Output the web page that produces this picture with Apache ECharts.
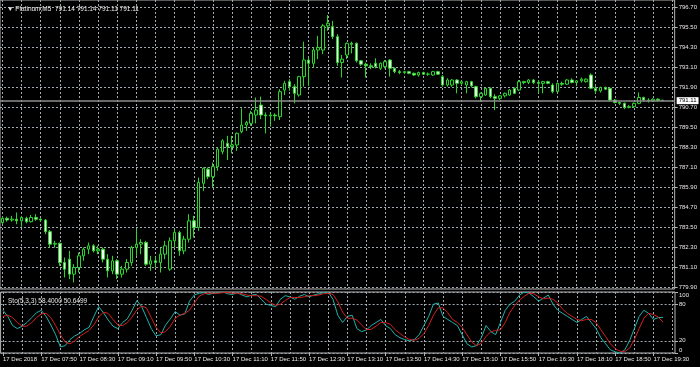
<!DOCTYPE html>
<html><head><meta charset="utf-8">
<script src="https://cdn.jsdelivr.net/npm/echarts@6/dist/echarts.min.js"></script>
<style>html,body{margin:0;padding:0;background:#000;}#c{width:700px;height:367px;}</style>
</head><body><div id="c"></div>
<script>
// bar times (M5), session break 17:00-17:55, two empty slots at the right (chart shift)
const barTimes = [
'07:10','07:15','07:20','07:25','07:30','07:35','07:40','07:45','07:50','07:55',
'08:00','08:05','08:10','08:15','08:20','08:25','08:30','08:35','08:40','08:45','08:50','08:55',
'09:00','09:05','09:10','09:15','09:20','09:25','09:30','09:35','09:40','09:45','09:50','09:55',
'10:00','10:05','10:10','10:15','10:20','10:25','10:30','10:35','10:40','10:45','10:50','10:55',
'11:00','11:05','11:10','11:15','11:20','11:25','11:30','11:35','11:40','11:45','11:50','11:55',
'12:00','12:05','12:10','12:15','12:20','12:25','12:30','12:35','12:40','12:45','12:50','12:55',
'13:00','13:05','13:10','13:15','13:20','13:25','13:30','13:35','13:40','13:45','13:50','13:55',
'14:00','14:05','14:10','14:15','14:20','14:25','14:30','14:35','14:40','14:45','14:50','14:55',
'15:00','15:05','15:10','15:15','15:20','15:25','15:30','15:35','15:40','15:45','15:50','15:55',
'16:00','16:05','16:10','16:15','16:20','16:25','16:30','16:35','16:40','16:45','16:50','16:55',
'18:00','18:05','18:10','18:15','18:20','18:25','18:30','18:35','18:40','18:45','18:50','18:55',
'19:00','19:05','19:10','19:15','19:20','19:25','19:30','19:35','19:40','19:45','19:50'];
const timeTickLabels = {
'07:10':'17 Dec 2018','07:50':'17 Dec 07:50','08:30':'17 Dec 08:30','09:10':'17 Dec 09:10','09:50':'17 Dec 09:50',
'10:30':'17 Dec 10:30','11:10':'17 Dec 11:10','11:50':'17 Dec 11:50','12:30':'17 Dec 12:30','13:10':'17 Dec 13:10',
'13:50':'17 Dec 13:50','14:30':'17 Dec 14:30','15:10':'17 Dec 15:10','15:50':'17 Dec 15:50','16:30':'17 Dec 16:30',
'18:10':'17 Dec 18:10','18:50':'17 Dec 18:50','19:30':'17 Dec 19:30'};
const priceTicks = [779.90,781.10,782.30,783.50,784.70,785.90,787.10,788.30,789.50,790.70,791.90,793.10,794.30,795.50,796.70];
const stoTicks = [0,20,80,100];

const opens = [783.80,784.05,783.95,784.00,783.90,784.05,783.85,784.10,784.00,783.95,
783.25,782.50,782.55,781.40,781.60,780.70,781.10,781.80,782.20,782.40,
782.10,782.20,781.60,780.90,781.50,780.70,781.00,781.40,782.30,782.50,
782.60,781.30,781.50,781.40,781.90,781.00,782.70,783.20,782.10,782.80,
783.90,783.50,786.15,787.00,786.55,787.15,788.05,788.55,788.35,788.45,
789.25,789.65,789.75,790.25,790.85,790.25,790.20,790.25,790.15,791.75,
792.25,791.95,791.45,792.55,793.55,793.35,794.15,794.15,795.60,795.55,
794.95,793.40,793.85,794.55,794.55,793.50,793.30,793.20,793.35,793.05,
793.15,793.55,793.05,792.85,792.80,792.85,792.75,792.65,792.80,792.70,
792.65,792.85,792.55,792.05,792.05,792.35,792.15,792.05,792.25,791.95,
791.35,791.45,791.85,791.35,791.25,791.40,791.45,791.85,791.75,792.25,
792.20,792.35,792.20,792.15,792.25,792.05,791.65,792.15,792.10,792.35,
792.20,792.30,792.25,792.65,791.85,791.70,791.90,791.85,791.15,791.00,
790.95,790.70,790.75,790.95,791.30,791.15,791.10,791.20,791.14];
const highs = [784.15,784.15,784.20,784.40,784.20,784.15,784.25,784.30,784.05,784.00,
783.35,782.70,782.60,781.70,782.10,781.30,782.00,782.30,782.60,782.50,
782.40,782.30,781.90,781.80,781.60,781.20,781.60,782.40,783.40,782.80,
782.70,781.80,781.70,782.30,782.70,782.90,783.40,783.30,783.00,784.30,
784.20,786.50,787.10,787.10,787.40,788.30,788.80,789.00,789.00,789.20,
790.65,789.90,790.50,791.30,791.35,790.40,790.40,790.35,791.80,792.30,
792.40,792.10,792.60,794.65,793.70,794.30,795.00,795.70,796.25,795.90,
795.10,793.85,794.60,794.65,794.60,793.55,793.40,793.35,793.65,793.40,
793.55,793.60,793.10,792.95,792.90,792.90,792.80,792.85,792.85,792.80,
792.90,792.90,792.65,792.45,792.40,792.40,792.30,792.30,792.30,792.00,
791.60,791.90,791.90,791.50,791.45,791.60,791.80,791.90,792.35,792.30,
792.40,792.40,792.35,792.30,792.30,792.15,792.20,792.25,792.40,792.45,
792.35,792.50,792.45,792.75,792.00,791.95,791.95,791.90,791.20,791.05,
791.00,790.85,791.00,791.60,791.35,791.25,791.25,791.25,791.14];
const lows = [783.70,783.85,783.85,783.70,783.55,783.75,783.80,783.90,783.85,783.10,
782.30,782.30,781.20,780.50,780.40,780.20,780.80,781.50,781.90,782.00,
781.90,781.40,780.50,780.70,780.40,780.50,780.80,781.20,781.80,781.90,
781.20,780.90,781.10,780.80,781.60,780.90,782.30,781.80,781.90,782.60,
782.90,783.30,785.70,786.40,785.90,786.90,787.90,787.55,787.95,788.10,
789.15,789.30,789.60,789.75,790.00,789.15,789.55,789.90,789.95,791.45,
791.70,790.95,791.35,791.95,792.00,793.10,793.60,793.90,795.30,794.80,
793.20,792.50,793.60,793.95,793.40,793.20,792.50,793.00,793.05,792.95,
793.05,792.55,792.75,792.70,792.70,792.70,792.60,792.55,792.65,792.60,
792.60,792.65,791.95,791.95,791.95,791.55,792.05,791.55,791.90,791.25,
791.05,791.40,791.25,790.55,791.15,791.30,791.40,791.50,791.70,792.10,
792.10,792.10,791.55,791.55,792.10,791.55,791.60,792.00,792.05,792.15,
792.10,792.20,792.20,791.80,791.55,791.60,791.75,791.05,790.95,790.85,
790.60,790.65,790.70,790.90,791.05,791.00,791.05,791.05,791.11];
const closes = [784.05,783.95,784.00,783.90,784.10,783.85,784.10,784.00,783.95,783.25,
782.50,782.55,781.40,781.00,780.70,781.10,781.80,782.20,782.40,782.10,
782.20,781.60,780.90,781.50,780.70,781.00,781.40,782.30,782.50,782.60,
781.30,781.50,781.40,781.90,782.40,782.70,783.20,782.10,782.80,783.90,
783.50,786.20,787.05,786.55,787.15,788.20,788.70,788.35,788.45,789.15,
789.65,789.80,790.35,790.55,790.25,790.20,790.25,790.20,791.65,792.15,
791.95,791.55,792.55,793.55,793.35,794.15,794.30,795.60,795.75,794.95,
793.40,793.60,794.55,794.50,793.50,793.30,793.20,793.15,793.15,793.35,
793.45,793.05,792.85,792.80,792.85,792.75,792.65,792.80,792.70,792.70,
792.85,792.70,792.05,792.35,792.35,792.15,792.25,792.25,792.00,791.35,
791.55,791.85,791.35,791.25,791.40,791.55,791.75,791.55,792.25,792.20,
792.35,792.20,792.15,792.25,792.15,791.65,792.15,792.10,792.35,792.20,
792.30,792.40,792.40,791.85,791.70,791.90,791.80,791.15,791.00,790.95,
790.70,790.75,790.95,791.30,791.15,791.10,791.20,791.14,791.11];
const stoMain = [70,60,45,40,44,50,58,66,70,60,
46,30,10,12,22,28,32,38,42,60,
76,66,54,44,40,50,56,70,86,76,
58,40,28,30,46,56,68,62,64,85,
95,98,99,96,98,99,100,97,96,99,
95,92,95,96,88,80,78,76,88,94,
92,88,93,96,92,95,97,99,100,88,
62,50,60,62,40,35,38,45,50,55,
45,40,30,25,22,20,22,30,45,60,
80,82,60,55,50,45,30,15,10,12,
25,45,35,30,50,70,80,85,95,100,
98,92,85,90,95,80,70,65,60,55,
50,55,60,50,40,25,15,5,2,0,
5,20,40,60,70,65,55,58,58.40];
const stoSignal = [60,62,58,50,44,44,50,58,64,65,
58,45,30,18,15,20,27,32,37,46,
59,67,65,55,46,45,50,59,71,77,
74,58,42,33,35,44,57,62,65,70,
82,93,97,98,98,98,99,99,98,98,
97,95,94,94,93,88,82,78,80,86,
91,91,91,92,94,94,95,97,98,96,
84,67,57,57,54,46,38,39,44,50,
50,47,38,32,26,22,21,24,32,45,
62,74,74,66,55,50,42,30,18,12,
16,27,35,37,38,50,67,78,87,93,
98,97,92,89,90,88,82,72,65,60,
55,53,55,55,50,38,27,15,7,3,
2,8,22,40,57,65,63,59,50.65];
const bidPrice = 791.11;
const headerText = '▼ Platinum,M5  791.14 791.14 791.11 791.11';
const stoText = 'Sto(5,3,3) 58.4000 50.6499';

const candles = opens.map((o, i) => [o, closes[i], lows[i], highs[i]]);

const FONT = 'Liberation Sans';
const TXT = '#e8e8e8';
const GRID = '#a2aab2';
const FRAME = '#b4b4b4';
const isGridIdx = (i) => i % 4 === 0;

const chart = echarts.init(document.getElementById('c'), null, {renderer: 'canvas'});
chart.setOption({
  backgroundColor: '#000',
  animation: false,
  title: [
    {text: headerText, left: 2, top: 1, textStyle: {color: TXT, fontSize: 6.5, fontWeight: 'normal', fontFamily: FONT}},
    {text: stoText, left: 3, top: 293, textStyle: {color: TXT, fontSize: 6.5, fontWeight: 'normal', fontFamily: FONT}}
  ],
  grid: [
    {left: 0, top: 0, width: 675, height: 289, show: true, borderColor: FRAME, borderWidth: 1, backgroundColor: 'transparent'},
    {left: 0, top: 292, width: 675, height: 61, show: true, borderColor: FRAME, borderWidth: 1, backgroundColor: 'transparent'}
  ],
  xAxis: [
    {type: 'category', gridIndex: 0, data: barTimes, boundaryGap: true,
     axisLine: {show: false}, axisTick: {show: false}, axisLabel: {show: false},
     splitLine: {show: true, alignWithLabel: true, interval: (i) => isGridIdx(i), lineStyle: {color: GRID, type: [2, 2], width: 1}}},
    {type: 'category', gridIndex: 1, data: barTimes, boundaryGap: true,
     axisLine: {show: false},
     axisTick: {show: true, alignWithLabel: true, length: 3, inside: false, interval: (i, v) => !!timeTickLabels[v], lineStyle: {color: FRAME}},
     axisLabel: {show: true, hideOverlap: false, showMinLabel: true, showMaxLabel: true,
       interval: (i, v) => !!timeTickLabels[v], formatter: (v) => timeTickLabels[v] || '',
       align: 'left', margin: 3, color: TXT, fontSize: 6, fontFamily: FONT},
     splitLine: {show: true, alignWithLabel: true, interval: (i) => isGridIdx(i), lineStyle: {color: GRID, type: [2, 2], width: 1}}}
  ],
  yAxis: [
    {type: 'value', gridIndex: 0, position: 'right', min: 779.81, max: 797.15, scale: true,
     axisLine: {show: false},
     axisTick: {show: true, customValues: priceTicks, length: 3, lineStyle: {color: FRAME}},
     axisLabel: {show: true, customValues: priceTicks, formatter: (v) => v.toFixed(2), color: TXT, fontSize: 6, fontFamily: FONT, margin: 4},
     splitLine: {show: true, lineStyle: {color: GRID, type: [2, 2], width: 1}}},
    {type: 'value', gridIndex: 1, position: 'right', min: 0, max: 100,
     axisLine: {show: false},
     axisTick: {show: true, customValues: stoTicks, length: 3, lineStyle: {color: FRAME}},
     axisLabel: {show: true, customValues: stoTicks, color: TXT, fontSize: 6, fontFamily: FONT, margin: 4,
       verticalAlignMinLabel: 'bottom', verticalAlignMaxLabel: 'top'},
     splitLine: {show: true, lineStyle: {color: GRID, type: [2, 2], width: 1}}}
  ],
  series: [
    {type: 'candlestick', xAxisIndex: 0, yAxisIndex: 0, data: candles, barWidth: 3,
     itemStyle: {color: '#000', color0: '#f2fff2', borderColor: '#2bd62b', borderColor0: '#2bd62b', borderWidth: 1},
     markLine: {silent: true, symbol: ['none', 'none'], animation: false,
       lineStyle: {color: '#8c8c8c', type: 'solid', width: 1.5},
       label: {show: true, position: 'end', formatter: () => bidPrice.toFixed(2), color: '#000', backgroundColor: '#fff',
         fontSize: 6, fontFamily: FONT, padding: [1, 2, 0, 2], distance: 2},
       data: [{yAxis: bidPrice}]}},
    {type: 'line', xAxisIndex: 1, yAxisIndex: 1, data: stoMain, showSymbol: false, symbol: 'none',
     lineStyle: {color: '#20b2aa', width: 1}},
    {type: 'line', xAxisIndex: 1, yAxisIndex: 1, data: stoSignal, showSymbol: false, symbol: 'none',
     lineStyle: {color: '#d42020', width: 1}}
  ]
});
</script>
</body></html>
